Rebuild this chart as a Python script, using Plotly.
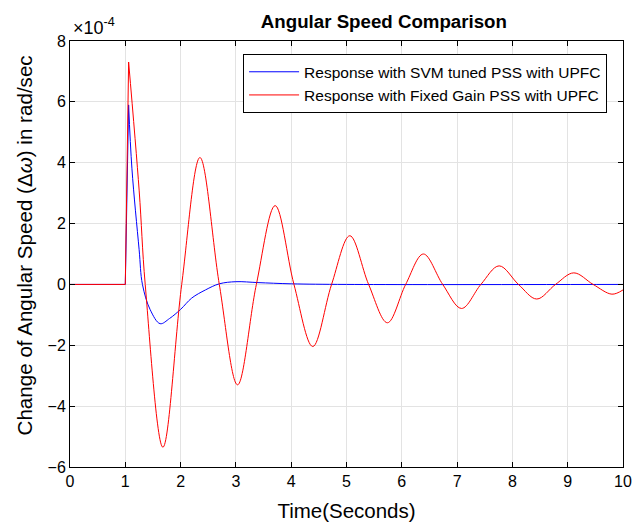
import plotly.graph_objects as go

# Values in units of 1e-4 rad/sec
t_svm = [0, 1.0, 1.06, 1.12, 1.25, 1.31, 1.45, 1.63, 1.8, 2.0, 2.2, 2.45, 2.7, 3.0, 3.4, 4.0, 5.0, 10.0]
w_svm = [0, 0, 5.9, 3.8, 1.14, 0, -0.83, -1.29, -1.12, -0.82, -0.45, -0.18, 0.02, 0.09, 0.06, 0.02, 0.0, 0.0]

t_fixed = [0, 1.0, 1.06, 1.25, 1.36, 1.68, 2.02, 2.35, 2.70, 3.03, 3.37, 3.71, 4.05, 4.39, 4.73,
           5.06, 5.40, 5.74, 6.07, 6.39, 6.74, 7.08, 7.43, 7.76, 8.11, 8.44, 8.78, 9.11,
           9.46, 9.80, 10.0]
w_fixed = [0, 0, 7.31, 3.1, 0, -5.35, 0, 4.17, 0, -3.30, 0, 2.59, 0, -2.04, 0,
           1.60, 0, -1.26, 0, 1.00, 0, -0.79, 0, 0.61, 0, -0.48, 0, 0.38,
           0, -0.32, -0.18]

x_ticks = list(range(0, 11))
y_ticks = [-6, -4, -2, 0, 2, 4, 6, 8]

FONT = "Liberation Sans, Arial, sans-serif"

series = [
    ("Response with SVM tuned PSS with UPFC", t_svm, w_svm, "#0000ff"),
    ("Response with Fixed Gain PSS with UPFC", t_fixed, w_fixed, "#ff0000"),
]

fig = go.Figure()
# legend-bearing (smooth) traces first, in legend order
for name, t, w, col in series:
    k = w.index(max(w))  # peak index: step before it drawn straight
    fig.add_trace(go.Scatter(x=t[k:], y=w[k:], mode="lines", name=name, legendgroup=name,
                             line=dict(color=col, width=1, shape="spline", smoothing=1.0)))
for name, t, w, col in series:
    k = w.index(max(w))
    fig.add_trace(go.Scatter(x=t[:k + 1], y=w[:k + 1], mode="lines", name=name,
                             legendgroup=name, showlegend=False,
                             line=dict(color=col, width=1)))

axis_common = dict(showline=True, linecolor="black", linewidth=1, mirror="ticks",
                   ticks="inside", ticklen=5, tickcolor="black", automargin=False,
                   showgrid=True, gridcolor="#e3e3e3", gridwidth=1, zeroline=False,
                   tickfont=dict(family=FONT, size=16, color="black"))

# page body has an 8px margin: figure sized to fit the 643x522 window
fig.update_layout(
    width=635, height=514,
    margin=dict(l=62, r=20, t=33, b=55),
    paper_bgcolor="white", plot_bgcolor="white",
    title=dict(text="<b>Angular Speed Comparison</b>", xref="container", x=0.592,
               xanchor="center", yref="container", y=0.973, yanchor="middle",
               font=dict(family=FONT, size=18.7, color="black")),
    xaxis=dict(range=[0, 10], tickvals=x_ticks,
               title=dict(text="Time(Seconds)", font=dict(family=FONT, size=20.5, color="black"),
                          standoff=14),
               **axis_common),
    yaxis=dict(range=[-6, 8], tickvals=y_ticks, title=dict(text=""), **axis_common),
    legend=dict(x=0.313, y=0.969, xanchor="left", yanchor="top",
                bgcolor="white", bordercolor="black", borderwidth=1,
                font=dict(family=FONT, size=15.5, color="black"),
                tracegroupgap=0, itemwidth=50),
    showlegend=True,
)

fig.add_annotation(text="Change of Angular Speed (Δ<i>ω</i>) in rad/sec",
                   xref="paper", yref="paper", x=-0.0832, y=0.52,
                   xanchor="center", yanchor="middle", textangle=-90, showarrow=False,
                   font=dict(family=FONT, size=20.6, color="black"))

fig.add_annotation(text="×10<sup>-4</sup>", xref="paper", yref="paper",
                   x=0.002, y=1.0, xanchor="left", yanchor="bottom", showarrow=False,
                   yshift=1, font=dict(family=FONT, size=18, color="black"))

fig.write_html("out.html")
